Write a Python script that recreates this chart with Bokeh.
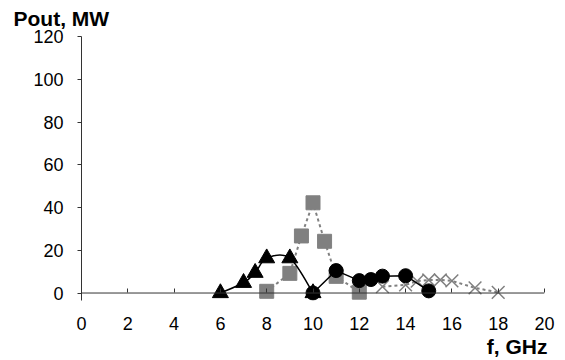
from bokeh.plotting import figure
from bokeh.models import Range1d, FixedTicker, Span, Title
from bokeh.embed import file_html
from bokeh.resources import INLINE

# ---- data ----
tri_f = [6, 7, 7.5, 8, 9, 10]
tri_p = [0, 4.8, 9.5, 16.3, 16.3, 0]

sq_f = [8, 9, 9.5, 10, 10.5, 11, 12]
sq_p = [0.8, 9.2, 26.7, 42.2, 24.2, 7.8, 0.4]

circ_f = [10, 11, 12, 12.5, 13, 14, 15]
circ_p = [0, 10.5, 5.8, 6.3, 7.9, 8.1, 1.0]

x_f = [13, 14, 14.5, 15, 15.5, 16, 17, 18]
x_p = [3.0, 3.8, 5.6, 6.1, 6.1, 5.7, 2.4, 0.3]

x_ticks = [0, 2, 4, 6, 8, 10, 12, 14, 16, 18, 20]
y_ticks = [0, 20, 40, 60, 80, 100, 120]

FONT = "Liberation Sans"
GRAY = "#808080"
AXIS = "#333333"


def smooth_segments(xs, ys):
    """Bezier control points for a smoothed line through the points."""
    n = len(xs)
    out = {k: [] for k in ("x0", "y0", "x1", "y1", "cx0", "cy0", "cx1", "cy1")}
    for i in range(n - 1):
        a = max(i - 1, 0)
        b = min(i + 2, n - 1)
        out["x0"].append(xs[i]); out["y0"].append(ys[i])
        out["x1"].append(xs[i + 1]); out["y1"].append(ys[i + 1])
        out["cx0"].append(xs[i] + (xs[i + 1] - xs[a]) / 6)
        out["cy0"].append(ys[i] + (ys[i + 1] - ys[a]) / 6)
        out["cx1"].append(xs[i + 1] - (xs[b] - xs[i]) / 6)
        out["cy1"].append(ys[i + 1] - (ys[b] - ys[i]) / 6)
    return out


p = figure(width=565, height=360, output_backend="svg", toolbar_location=None,
           x_range=Range1d(0, 20), y_range=Range1d(-3.5, 120),
           min_border_left=81, min_border_right=21,
           min_border_top=36, min_border_bottom=60)
p.outline_line_color = None
p.xgrid.grid_line_color = None
p.ygrid.grid_line_color = None
p.background_fill_color = "white"
p.border_fill_color = "white"

# axes
p.xaxis.ticker = FixedTicker(ticks=x_ticks)
p.yaxis.ticker = FixedTicker(ticks=y_ticks)
for ax in (p.xaxis, p.yaxis):
    ax.axis_line_color = AXIS
    ax.major_tick_line_color = AXIS
    ax.minor_tick_line_color = None
    ax.major_label_text_font = FONT
    ax.major_label_text_font_size = "18px"
    ax.major_label_text_color = "black"
# x axis line is drawn at P = 0 (slightly above the frame bottom)
p.xaxis.axis_line_color = None
p.xaxis.major_tick_in = 12
p.xaxis.major_tick_out = -8
p.xaxis.major_label_standoff = 16
p.yaxis.major_tick_in = 0
p.yaxis.major_tick_out = 4
p.yaxis.major_label_standoff = 14
p.add_layout(Span(location=0, dimension="width", line_color=AXIS, line_width=1))

# series: squares (dashed gray)
p.line(sq_f, sq_p, line_color=GRAY, line_width=2, line_dash="3 3")
p.scatter(sq_f, sq_p, marker="square", size=14, fill_color=GRAY, line_color=GRAY)

# series: crosses (dashed gray)
p.line(x_f, x_p, line_color=GRAY, line_width=2, line_dash="3 3")
p.scatter(x_f, x_p, marker="x", size=18, line_color=GRAY, line_width=1.5)

# series: triangles (smoothed black)
seg = smooth_segments(tri_f, tri_p)
p.bezier(line_color="black", line_width=1.5, **seg)
p.scatter(tri_f, tri_p, marker="triangle", size=16, fill_color="black", line_color="black")

# series: circles (black)
p.line(circ_f, circ_p, line_color="black", line_width=1.5)
p.scatter(circ_f, circ_p, marker="circle", size=14, fill_color="black", line_color="black")

# axis titles
p.add_layout(Title(text="Pout, MW", align="left", offset=-68, standoff=10,
                   vertical_align="top",
                   text_font=FONT, text_font_size="21px", text_font_style="bold",
                   text_color="black"), "above")
p.add_layout(Title(text="f, GHz", align="right", offset=-3, standoff=0,
                   text_font=FONT, text_font_size="21px", text_font_style="bold",
                   text_color="black"), "below")

open("out.html", "w").write(file_html(p, INLINE))
